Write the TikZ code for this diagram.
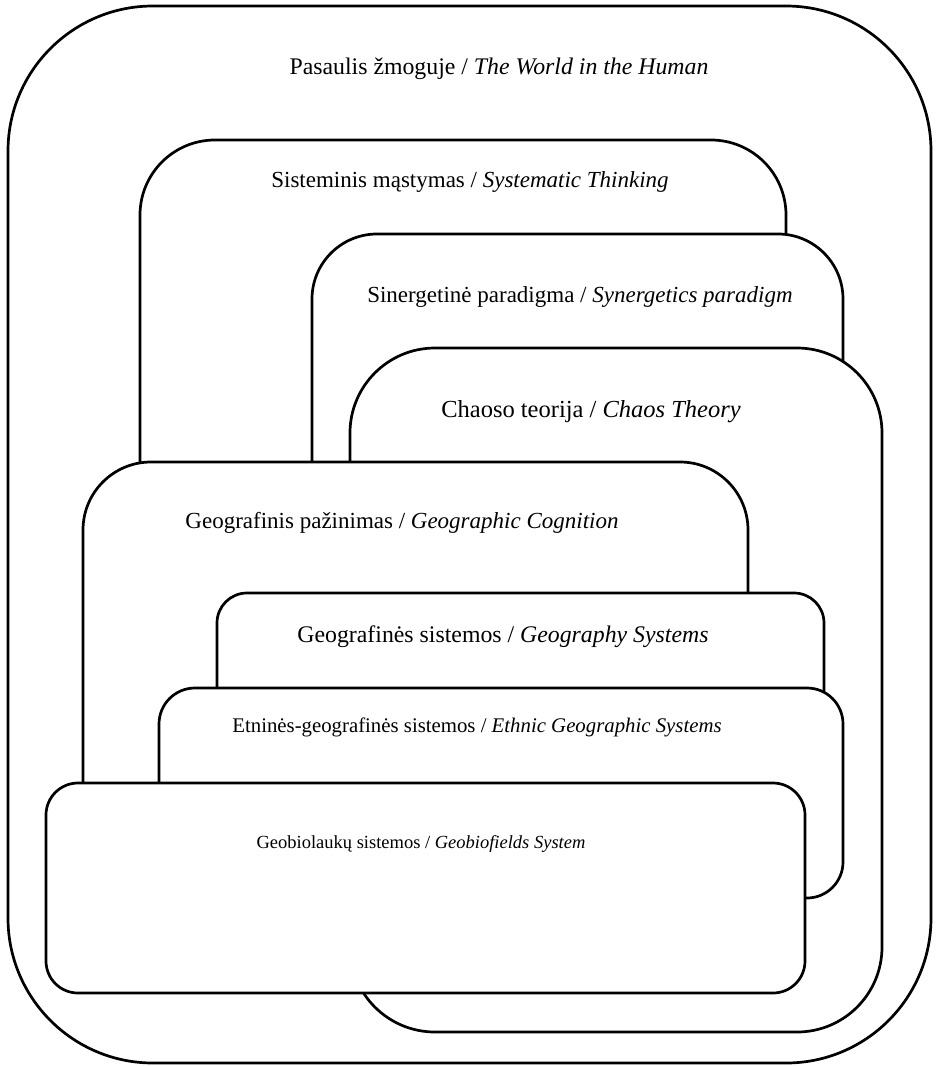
\documentclass[tikz,border=0pt]{standalone}
\usepackage{fontspec}
\setmainfont{Liberation Serif}
\begin{document}
\begin{tikzpicture}[x=1pt,y=-1pt,
  panel/.style={draw=black, fill=white, line width=2.7pt, inner sep=0pt, outer sep=0pt, anchor=north west},
  lbl/.style={font=\fontsize{23}{27}\selectfont, inner sep=0pt, anchor=base}]
\useasboundingbox[fill=white] (0,0) rectangle (935,1066);
% panels, back to front
\node[panel, rounded corners=145pt, minimum width=923pt, minimum height=1057pt] (world) at (8,6) {};
\node[panel, rounded corners=75pt, minimum width=646pt, minimum height=460pt] (sys) at (140,140) {};
\node[panel, rounded corners=65pt, minimum width=531pt, minimum height=366pt] (syn) at (312,234) {};
\node[panel, rounded corners=85pt, minimum width=532pt, minimum height=684pt] (chaos) at (350,348) {};
\node[panel, rounded corners=68pt, minimum width=665pt, minimum height=488pt] (cog) at (83,462) {};
\node[panel, rounded corners=30pt, minimum width=607pt, minimum height=257pt] (geosys) at (217,593) {};
\node[panel, rounded corners=36pt, minimum width=684pt, minimum height=210pt] (ethnic) at (159,688) {};
\node[panel, rounded corners=32pt, minimum width=759pt, minimum height=210pt] (geobio) at (46,783) {};
% labels
\node[lbl, font=\fontsize{23.8}{28}\selectfont] (tworld) at (499,74) {Pasaulis žmoguje / \textit{The World in the Human}};
\node[lbl] (tsys) at (470,187) {Sisteminis mąstymas / \textit{Systematic Thinking}};
\node[lbl] (tsyn) at (580,302) {Sinergetinė paradigma / \textit{Synergetics paradigm}};
\node[lbl, font=\fontsize{24.5}{29}\selectfont] (tchaos) at (591,417) {Chaoso teorija / \textit{Chaos Theory}};
\node[lbl] (tcog) at (402,528) {Geografinis pažinimas / \textit{Geographic Cognition}};
\node[lbl, font=\fontsize{23.8}{28}\selectfont] (tgeosys) at (503,642) {Geografinės sistemos / \textit{Geography Systems}};
\node[lbl, font=\fontsize{20.8}{25}\selectfont] (tethnic) at (477,732) {Etninės-geografinės sistemos / \textit{Ethnic Geographic Systems}};
\node[lbl, font=\fontsize{18.5}{22}\selectfont] (tgeobio) at (421,848) {Geobiolaukų sistemos / \textit{Geobiofields System}};
\end{tikzpicture}
\end{document}
